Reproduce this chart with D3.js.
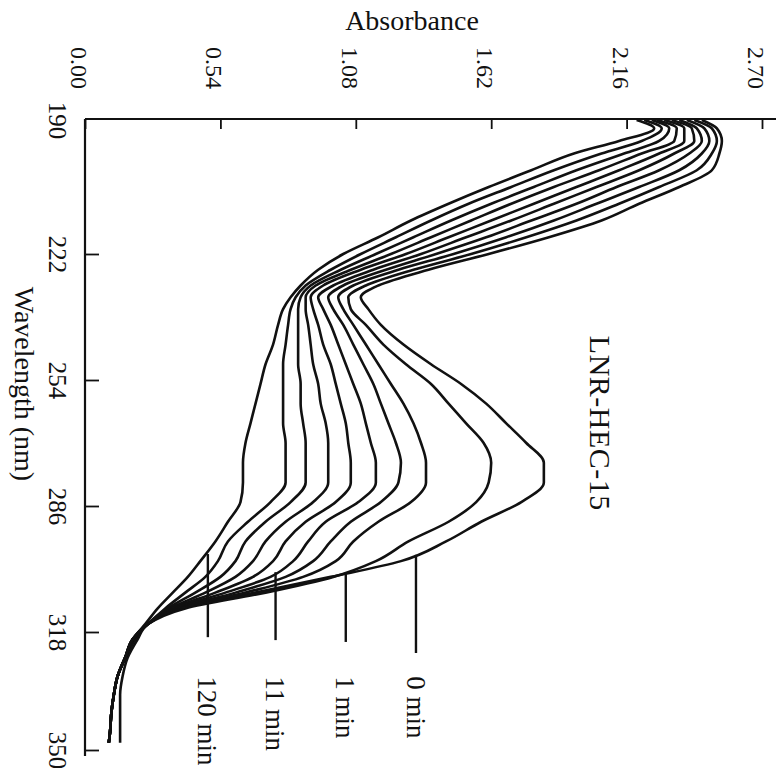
<!DOCTYPE html>
<html>
<head>
<meta charset="utf-8">
<script src="https://cdn.jsdelivr.net/npm/d3@7"></script>
<style>
  body { margin: 0; background: #fff; }
  text { font-family: "Liberation Serif", "Times New Roman", serif; fill: #111; }
</style>
</head>
<body>
<svg id="chart" width="784" height="768"></svg>
<script>
// Wavelength grid (nm) shared by every scan
const wavelengths = [190,192,195,198,202,206,210,214,218,222,226,230,233,236,240,245,250,255,260,265,270,275,280,285,290,295,300,304,308,312,316,320,325,330,335,340,345,348];

// Absorbance of each successive scan (first = 0 min, last = 120 min)
const scan01 = [2.46,2.52,2.54,2.53,2.50,2.37,2.21,2.06,1.85,1.61,1.37,1.17,1.10,1.13,1.18,1.27,1.38,1.50,1.60,1.68,1.76,1.83,1.83,1.74,1.58,1.44,1.26,0.98,0.68,0.38,0.25,0.21,0.17,0.15,0.14,0.14,0.14,0.14];
const scan02 = [2.43,2.50,2.52,2.50,2.44,2.29,2.13,1.96,1.76,1.54,1.31,1.12,1.05,1.06,1.12,1.19,1.28,1.38,1.45,1.52,1.59,1.62,1.61,1.56,1.45,1.29,1.16,0.99,0.72,0.40,0.25,0.20,0.16,0.13,0.115,0.105,0.10,0.095];
const scan03 = [2.40,2.47,2.49,2.46,2.37,2.21,2.04,1.87,1.68,1.47,1.25,1.07,1.01,1.03,1.07,1.12,1.17,1.22,1.27,1.31,1.34,1.36,1.36,1.30,1.17,1.07,1.00,0.87,0.64,0.38,0.25,0.20,0.16,0.13,0.115,0.105,0.10,0.095];
const scan04 = [2.37,2.44,2.46,2.41,2.29,2.12,1.96,1.78,1.60,1.40,1.20,1.03,0.97,0.99,1.03,1.07,1.11,1.15,1.18,1.21,1.24,1.26,1.25,1.18,1.06,0.98,0.91,0.80,0.60,0.37,0.25,0.20,0.16,0.13,0.115,0.105,0.10,0.095];
const scan05 = [2.34,2.42,2.43,2.35,2.21,2.04,1.87,1.70,1.52,1.34,1.15,0.99,0.93,0.95,0.98,1.01,1.04,1.07,1.10,1.12,1.14,1.16,1.16,1.09,0.96,0.89,0.83,0.74,0.56,0.36,0.25,0.19,0.16,0.13,0.115,0.105,0.10,0.095];
const scan06 = [2.31,2.39,2.39,2.29,2.13,1.96,1.79,1.62,1.45,1.28,1.10,0.95,0.90,0.91,0.93,0.95,0.98,1.00,1.02,1.04,1.05,1.06,1.06,1.00,0.88,0.80,0.75,0.67,0.52,0.35,0.25,0.19,0.16,0.13,0.115,0.105,0.10,0.095];
const scan07 = [2.28,2.36,2.35,2.22,2.05,1.87,1.70,1.54,1.38,1.22,1.06,0.92,0.88,0.88,0.89,0.90,0.91,0.93,0.94,0.96,0.97,0.97,0.97,0.91,0.80,0.72,0.67,0.60,0.48,0.34,0.25,0.19,0.16,0.13,0.115,0.105,0.10,0.095];
const scan08 = [2.26,2.33,2.29,2.15,1.96,1.79,1.62,1.46,1.31,1.16,1.02,0.90,0.86,0.85,0.85,0.85,0.85,0.86,0.86,0.87,0.88,0.88,0.88,0.82,0.72,0.64,0.60,0.54,0.44,0.33,0.25,0.19,0.16,0.13,0.115,0.105,0.10,0.095];
const scan09 = [2.23,2.30,2.22,2.06,1.87,1.70,1.53,1.38,1.24,1.10,0.98,0.88,0.84,0.82,0.81,0.80,0.79,0.79,0.79,0.79,0.80,0.80,0.80,0.74,0.65,0.57,0.53,0.48,0.40,0.32,0.25,0.19,0.16,0.13,0.115,0.105,0.10,0.095];
const scan10 = [2.20,2.27,2.13,1.95,1.78,1.61,1.45,1.30,1.17,1.03,0.93,0.86,0.82,0.79,0.77,0.75,0.72,0.70,0.68,0.66,0.64,0.63,0.63,0.62,0.57,0.52,0.46,0.41,0.35,0.29,0.24,0.19,0.16,0.13,0.115,0.105,0.10,0.095];

// Axis ticks
const absTicks = [0.00, 0.54, 1.08, 1.62, 2.16, 2.70];
const wlTicks = [190, 222, 254, 286, 318, 350];

// Time labels with their leader lines: absorbance of the leader, wavelength span
const timeLabels = ["0 min", "1 min", "11 min", "120 min"];
const leaderAbs = [1.32, 1.04, 0.76, 0.49];
const leaderFrom = [298.4, 303.3, 302.8, 298.2];
const leaderTo = [323.7, 320.7, 320.2, 319.4];

const scans = [scan01, scan02, scan03, scan04, scan05, scan06, scan07, scan08, scan09, scan10];

const svg = d3.select("#chart");

// Absorbance runs left to right along the top, wavelength runs downward
const x = d3.scaleLinear().domain([0, 2.70]).range([85, 762]);
const y = d3.scaleLinear().domain(wlTicks).range([120, 254, 380, 506, 632, 750]);

// Axis lines
svg.append("line").attr("x1", 85).attr("x2", 776).attr("y1", 119).attr("y2", 119)
  .attr("stroke", "#111").attr("stroke-width", 2.2);
svg.append("line").attr("x1", 85).attr("x2", 85).attr("y1", 119).attr("y2", 756)
  .attr("stroke", "#111").attr("stroke-width", 2.2);

// Absorbance axis (ticks pointing into the plot)
const gx = svg.append("g").attr("transform", "translate(0,119)")
  .call(d3.axisTop(x).tickValues(absTicks).tickFormat(d3.format(".2f")).tickSizeInner(-10).tickSizeOuter(0));
gx.select(".domain").remove();
gx.selectAll(".tick line").attr("stroke", "#111").attr("stroke-width", 1.8);
gx.selectAll(".tick text")
  .attr("y", null).attr("dy", "0.35em")
  .attr("transform", "translate(-6,-30) rotate(90)")
  .attr("text-anchor", "end")
  .style("font-size", "24px").style("font-family", "Liberation Serif");

// Wavelength axis
const gy = svg.append("g").attr("transform", "translate(85,0)")
  .call(d3.axisLeft(y).tickValues(wlTicks).tickSizeInner(-14).tickSizeOuter(0));
gy.select(".domain").remove();
gy.selectAll(".tick line").attr("stroke", "#111").attr("stroke-width", 1.8);
gy.selectAll(".tick line").filter(d => d === 190).remove();
gy.selectAll(".tick text")
  .attr("x", null).attr("dy", "0.35em")
  .attr("transform", "translate(-27,0) rotate(90)")
  .attr("text-anchor", "middle")
  .style("font-size", "25px").style("font-family", "Liberation Serif");

// Axis titles
svg.append("text").attr("x", 412).attr("y", 30).attr("text-anchor", "middle")
  .style("font-size", "28px").text("Absorbance");
svg.append("text").attr("transform", `translate(25,${y(255)}) rotate(90)`)
  .attr("text-anchor", "middle").attr("dy", "0.35em")
  .style("font-size", "28px").text("Wavelength (nm)");

// Sample name
svg.append("text").attr("transform", `translate(600,${y(265)}) rotate(90)`)
  .attr("text-anchor", "middle").attr("dy", "0.35em")
  .style("font-size", "30px").style("letter-spacing", "0.5px").text("LNR-HEC-15");

// Spectra
const line = d3.line()
  .x(d => x(d[1]))
  .y(d => y(d[0]))
  .curve(d3.curveMonotoneY);

svg.append("g").selectAll("path")
  .data(scans)
  .join("path")
  .attr("d", s => line(wavelengths.map((w, i) => [w, s[i]])))
  .attr("fill", "none")
  .attr("stroke", "#111")
  .attr("stroke-width", 2.6)
  .attr("stroke-linejoin", "round");

// Leader lines and time labels
const labels = svg.append("g");
timeLabels.forEach((t, i) => {
  labels.append("line")
    .attr("x1", x(leaderAbs[i])).attr("x2", x(leaderAbs[i]))
    .attr("y1", y(leaderFrom[i])).attr("y2", y(leaderTo[i]))
    .attr("stroke", "#111").attr("stroke-width", 2.4);
  labels.append("text")
    .attr("transform", `translate(${x(leaderAbs[i])},${y(330)}) rotate(90)`)
    .attr("dy", "0.35em")
    .style("font-size", "27px")
    .text(t);
});
</script>
</body>
</html>
